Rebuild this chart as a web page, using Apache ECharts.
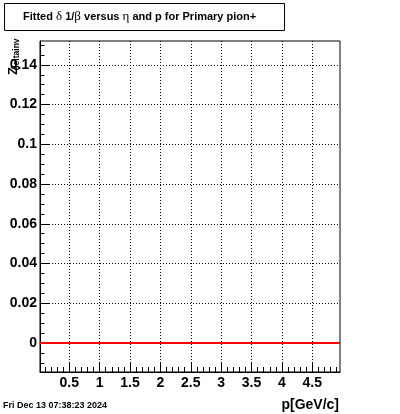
<!DOCTYPE html>
<html>
<head>
<meta charset="utf-8">
<script src="https://cdn.jsdelivr.net/npm/echarts@6/dist/echarts.min.js"></script>
<style>
html,body{margin:0;padding:0;background:#fff;}
#c{width:400px;height:414px;}
</style>
</head>
<body>
<div id="c"></div>
<script>
// ---- data ----
const xRange = [0.018, 4.956];
const yRange = [-0.0146, 0.152];
const xMajorTicks = [0.5, 1, 1.5, 2, 2.5, 3, 3.5, 4, 4.5];
const xMinorTicks = [0.1,0.2,0.3,0.4,0.6,0.7,0.8,0.9,1.1,1.2,1.3,1.4,1.6,1.7,1.8,1.9,2.1,2.2,2.3,2.4,2.6,2.7,2.8,2.9,3.1,3.2,3.3,3.4,3.6,3.7,3.8,3.9,4.1,4.2,4.3,4.4,4.6,4.7,4.8,4.9];
const yMajorTicks = [0, 0.02, 0.04, 0.06, 0.08, 0.1, 0.12, 0.14];
const yMinorTicks = [-0.01,-0.005,0.005,0.01,0.015,0.025,0.03,0.035,0.045,0.05,0.055,0.065,0.07,0.075,0.085,0.09,0.095,0.105,0.11,0.115,0.125,0.13,0.135,0.145,0.15];
const pValues = [0.018, 4.956];
const zValues = [0, 0];
const titleText = ['Fitted ', 'δ', ' 1/', 'β', ' versus ', 'η', ' and p for Primary pion+'];
const xTitle = 'p[GeV/c]';
const yTitleMain = 'Z';
const yTitleSub = 'deltainv';
const dateText = 'Fri Dec 13 07:38:23 2024';

const FONT = 'Liberation Sans, Arial, sans-serif';
const chart = echarts.init(document.getElementById('c'), null, {renderer: 'canvas'});
const G = {left: 40, top: 41, width: 300, height: 331};

const dotted = {show: true, lineStyle: {color: '#000', width: 1, type: [1, 2]}};
const lblStyle = {color: '#000', fontFamily: FONT, fontWeight: 'bold', fontSize: 14};

const option = {
  animation: false,
  backgroundColor: '#fff',
  grid: {left: G.left, top: G.top, width: G.width, height: G.height, show: true, borderColor: '#000', borderWidth: 1, backgroundColor: 'transparent'},
  xAxis: [
    {type: 'value', min: xRange[0], max: xRange[1], position: 'bottom',
     axisLine: {show: true, onZero: false, lineStyle: {color: '#000', width: 1}},
     axisTick: {show: true, inside: true, length: 10, customValues: xMajorTicks, lineStyle: {color: '#000'}},
     axisLabel: Object.assign({show: true, margin: 4, customValues: xMajorTicks}, lblStyle),
     splitLine: dotted},
    {type: 'value', min: xRange[0], max: xRange[1], position: 'bottom',
     axisLine: {show: false, onZero: false},
     axisTick: {show: true, inside: true, length: 5, customValues: xMinorTicks, lineStyle: {color: '#000'}},
     axisLabel: {show: false},
     splitLine: {show: false}}
  ],
  yAxis: [
    {type: 'value', min: yRange[0], max: yRange[1], position: 'left',
     axisLine: {show: true, onZero: false, lineStyle: {color: '#000', width: 1}},
     axisTick: {show: true, inside: true, length: 9, customValues: yMajorTicks, lineStyle: {color: '#000'}},
     axisLabel: Object.assign({show: true, margin: 3, customValues: yMajorTicks}, lblStyle),
     splitLine: dotted},
    {type: 'value', min: yRange[0], max: yRange[1], position: 'left',
     axisLine: {show: false, onZero: false},
     axisTick: {show: true, inside: true, length: 4.5, customValues: yMinorTicks, lineStyle: {color: '#000'}},
     axisLabel: {show: false},
     splitLine: {show: false}}
  ],
  series: [{
    type: 'line', xAxisIndex: 0, yAxisIndex: 0,
    data: pValues.map((p, i) => [p, zValues[i]]),
    symbol: 'none', lineStyle: {color: '#ff0000', width: 2}, z: 5
  }],
  graphic: [
    {type: 'rect', shape: {x: 4.5, y: 3.5, width: 280, height: 27}, style: {fill: '#fff', stroke: '#000', lineWidth: 1}},
    {type: 'text', x: 23, y: 17, style: {
      text: titleText.map((t, i) => (i % 2 === 1 ? '{g|' + t + '}' : '{b|' + t + '}')).join(''),
      verticalAlign: 'middle', align: 'left',
      rich: {
        b: {fontFamily: FONT, fontWeight: 'bold', fontSize: 11, fill: '#000'},
        g: {fontFamily: 'Liberation Serif, DejaVu Serif, serif', fontWeight: 'normal', fontSize: 13, fill: '#000'}
      }}},
    {type: 'text', x: 339, y: 405, style: {text: xTitle, align: 'right', verticalAlign: 'middle', fontFamily: FONT, fontWeight: 'bold', fontSize: 14, fill: '#000'}},
    {type: 'text', x: 3, y: 406, style: {text: dateText, align: 'left', verticalAlign: 'middle', fontFamily: FONT, fontWeight: 'bold', fontSize: 9, fill: '#000'}},
    {type: 'text', x: 13, y: 71, rotation: Math.PI / 2, style: {text: yTitleMain, align: 'center', verticalAlign: 'middle', fontFamily: FONT, fontWeight: 'bold', fontSize: 13, fill: '#000'}},
    {type: 'text', x: 16.5, y: 54.5, rotation: Math.PI / 2, style: {text: yTitleSub, align: 'center', verticalAlign: 'middle', fontFamily: FONT, fontWeight: 'bold', fontSize: 8.5, fill: '#000'}}
  ]
};
chart.setOption(option);
</script>
</body>
</html>
